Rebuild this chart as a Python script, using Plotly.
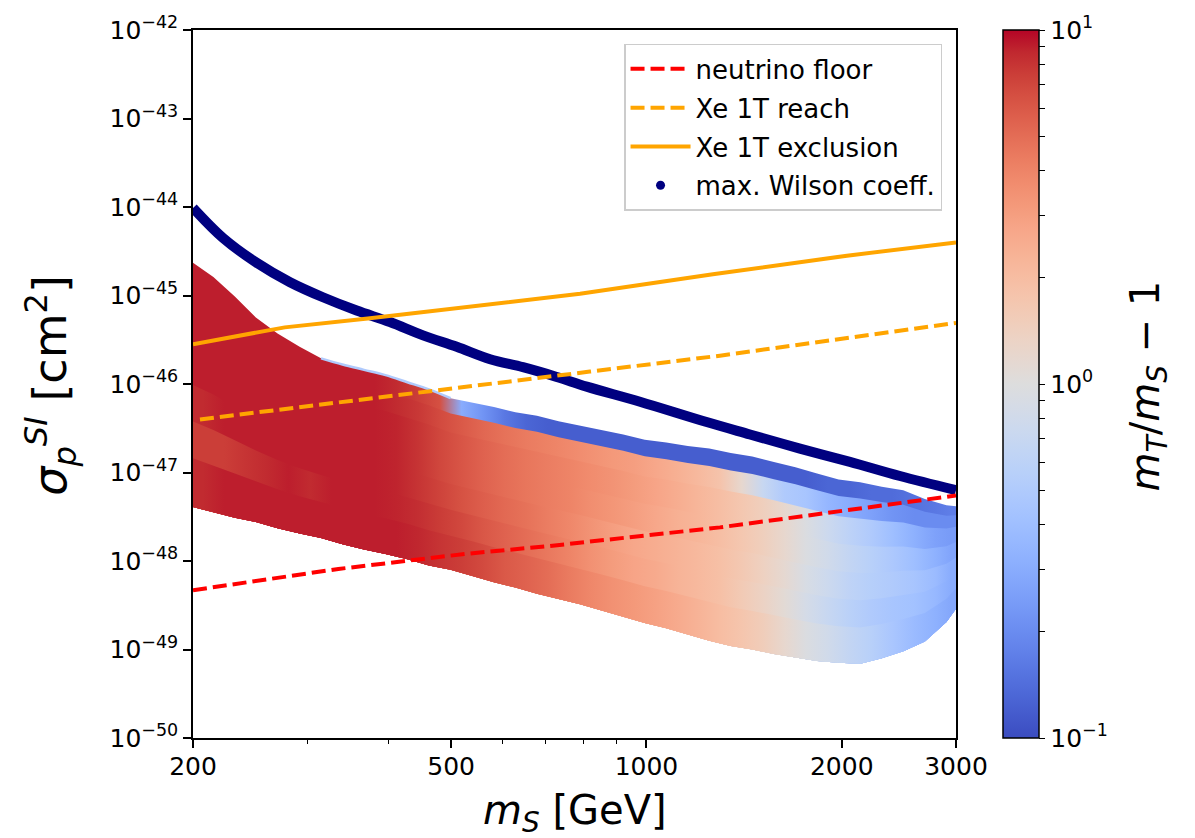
import numpy as np
import plotly.graph_objects as go
from plotly.colors import sample_colorscale

# ---------------- data ----------------
# neutrino floor (red dashed)
floor_ms = [200, 335, 525, 710, 1298, 3000]
floor_logsig = [-48.33, -48.09, -47.92, -47.83, -47.62, -47.26]

# Xe 1T reach (orange dashed)
reach_ms = [205, 525, 818, 1298, 3000]
reach_logsig = [-46.40, -46.04, -45.86, -45.68, -45.31]

# Xe 1T exclusion (orange solid)
excl_ms = [200, 277, 372, 525, 790, 1266, 2037, 3000]
excl_logsig = [-45.55, -45.36, -45.26, -45.13, -44.98, -44.76, -44.55, -44.40]

# max. Wilson coefficient (navy)
wilson_ms = [200, 222.5, 250.7, 282.2, 317.2, 357.5, 402.4, 452.5, 510, 574.1,
             645.1, 727.2, 808.8, 977.3, 1238, 1444, 1724, 2059, 2459, 3000]
wilson_logsig = [-44.01, -44.35, -44.63, -44.85, -45.02, -45.17, -45.30, -45.45,
                 -45.58, -45.72, -45.81, -45.92, -46.03, -46.20, -46.43, -46.57,
                 -46.73, -46.88, -47.04, -47.20]

# scan region: upper / lower edge (log10 sigma) at each m_S
cloud_ms = [200, 215, 232, 250, 270, 292, 315, 340, 367, 396, 428, 462, 499, 539, 582,
            628, 678, 732, 790, 853, 921, 994, 1073, 1158, 1250, 1349, 1456, 1572, 1697,
            1832, 1978, 2135, 2305, 2488, 2686, 2900, 3000]
cloud_top = [-44.63, -44.79, -45.01, -45.25, -45.43, -45.58, -45.71, -45.78, -45.84, -45.90,
             -45.98, -46.06, -46.16, -46.21, -46.26, -46.32, -46.36, -46.42, -46.47, -46.52,
             -46.57, -46.63, -46.66, -46.70, -46.73, -46.78, -46.82, -46.88, -46.94, -47.01,
             -47.08, -47.11, -47.16, -47.20, -47.30, -47.37, -47.38]
cloud_bottom = [-47.39, -47.45, -47.51, -47.56, -47.63, -47.69, -47.74, -47.81, -47.87, -47.92,
                -47.98, -48.05, -48.10, -48.17, -48.24, -48.30, -48.37, -48.43, -48.49, -48.56,
                -48.63, -48.70, -48.76, -48.83, -48.90, -48.96, -49.00, -49.05, -49.09, -49.13,
                -49.15, -49.16, -49.10, -49.02, -48.91, -48.69, -48.54]
# relative depth (0 = upper edge, 1 = lower edge) where each colour band starts
cloud_band = [0.0, 0.09, 0.2, 0.35, 0.5, 0.65, 0.8]
# m_T/m_S - 1 in each band, between consecutive m_S columns (top band first)
cloud_ratio = [
    [9, 9, 9, 9, 8.5, 7.5, 8.5],
    [9, 9, 9, 9, 9, 7.5, 9],
    [9, 9, 9, 9, 9, 8, 9],
    [9, 9, 9, 9, 9, 8.5, 9],
    [9, 9, 9, 9, 9, 9, 9],
    [9, 9, 9, 9, 9, 8.5, 9],
    [9, 9, 9, 9, 9, 9, 9],
    [9, 9, 9, 9, 9, 9, 9],
    [9, 9, 9, 9, 9, 9, 9],
    [8.5, 8.5, 8.8, 8.8, 8.8, 8.8, 9],
    [7.5, 7.8, 8, 8, 8, 8.3, 8.7],
    [6.5, 6.8, 7, 7, 7.2, 7.6, 8],
    [0.3, 6.0, 6.2, 6.2, 6.4, 6.9, 7.5],
    [0.22, 5.3, 5.5, 5.5, 5.7, 6.1, 6.8],
    [0.16, 4.8, 5, 5, 5.2, 5.5, 6],
    [0.13, 4.4, 4.6, 4.6, 4.8, 5, 5.5],
    [0.12, 4.1, 4.3, 4.3, 4.3, 4.5, 5],
    [0.12, 3.8, 4.0, 4.0, 3.9, 4.0, 4.4],
    [0.12, 3.5, 3.7, 3.6, 3.4, 3.5, 3.9],
    [0.12, 3.2, 3.4, 3.3, 3.0, 3.1, 3.5],
    [0.12, 3.0, 3.1, 3.0, 2.7, 2.8, 3.2],
    [0.12, 2.7, 2.8, 2.7, 2.5, 2.6, 2.9],
    [0.12, 2.4, 2.5, 2.4, 2.3, 2.3, 2.6],
    [0.12, 2.1, 2.2, 2.2, 2.1, 2.1, 2.3],
    [0.12, 1.8, 1.95, 1.95, 1.9, 1.9, 2.0],
    [0.12, 1.2, 1.7, 1.7, 1.65, 1.6, 1.75],
    [0.12, 0.7, 1.45, 1.45, 1.4, 1.35, 1.5],
    [0.12, 0.5, 1.2, 1.2, 1.15, 1.1, 1.2],
    [0.12, 0.45, 0.95, 0.95, 0.9, 0.85, 0.95],
    [0.13, 0.35, 0.75, 0.8, 0.75, 0.7, 0.8],
    [0.13, 0.3, 0.6, 0.66, 0.62, 0.58, 0.66],
    [0.14, 0.26, 0.5, 0.56, 0.55, 0.5, 0.56],
    [0.14, 0.22, 0.4, 0.48, 0.5, 0.45, 0.46],
    [0.15, 0.2, 0.32, 0.4, 0.45, 0.42, 0.38],
    [0.16, 0.2, 0.26, 0.32, 0.38, 0.36, 0.32],
    [0.17, 0.2, 0.24, 0.27, 0.3, 0.3, 0.28],
]
# thin light-blue rim on the upper edge of the red part
rim_ms = [315, 340, 367, 396, 428, 462, 499]
rim_logsig = [-45.71, -45.78, -45.84, -45.90, -45.98, -46.06, -46.16]
rim_ratio = 0.5

x_tickvals = [200, 500, 1000, 2000, 3000]
x_ticktext = ["200", "500", "1000", "2000", "3000"]
x_minor = [300, 400, 600, 700, 800, 900]
y_exponents = [-42, -43, -44, -45, -46, -47, -48, -49, -50]
cbar_exponents = [-1, 0, 1]
cbar_minor = [0.2, 0.3, 0.4, 0.5, 0.6, 0.7, 0.8, 0.9, 2, 3, 4, 5, 6, 7, 8, 9]

# matplotlib "coolwarm"
coolwarm_rgb = [
    (59, 76, 192), (68, 90, 204), (77, 104, 215), (87, 117, 225), (98, 130, 234),
    (108, 142, 241), (119, 154, 247), (130, 165, 251), (141, 176, 254), (152, 185, 255),
    (163, 194, 255), (174, 201, 253), (184, 208, 249), (194, 213, 244), (204, 217, 238),
    (213, 219, 230), (221, 221, 221), (229, 216, 209), (236, 211, 197), (241, 204, 184),
    (245, 196, 172), (247, 187, 160), (247, 177, 148), (247, 166, 137), (244, 154, 123),
    (241, 141, 111), (236, 127, 99), (229, 112, 88), (222, 96, 77), (213, 80, 66),
    (203, 62, 56), (192, 40, 47), (180, 4, 38)]
coolwarm = [[i / (len(coolwarm_rgb) - 1), "rgb(%d,%d,%d)" % c] for i, c in enumerate(coolwarm_rgb)]

FONT = "DejaVu Sans"


def ratio_color(r):
    t = (np.log10(r) + 1.0) / 2.0
    t = min(max(t, 0.0), 1.0)
    return sample_colorscale(coolwarm, [t])[0]


# ---------------- build figure ----------------
fig = go.Figure()

n_col = len(cloud_ms)
lx = np.log10(cloud_ms)
x_lo, x_hi = lx[0], lx[-1]
# gradient stop positions: centre of each column interval (fraction of the log-x extent)
stop_pos = [0.0] + [float((0.5 * (lx[k] + lx[k + 1]) - x_lo) / (x_hi - x_lo))
                    for k in range(n_col - 1)] + [1.0]


def edge(i, f):
    return 10.0 ** (cloud_top[i] + f * (cloud_bottom[i] - cloud_top[i]))


# each band is filled from its own start depth down to the lower edge (later bands paint over)
for j, f0 in enumerate(cloud_band):
    cols = [ratio_color(cloud_ratio[k][j]) for k in range(n_col - 1)]
    cols = [cols[0]] + cols + [cols[-1]]
    scale = [[p, c] for p, c in zip(stop_pos, cols)]
    xs = list(cloud_ms) + list(cloud_ms[::-1]) + [cloud_ms[0]]
    ys = [edge(i, f0) for i in range(n_col)] + [edge(i, 1.0) for i in range(n_col - 1, -1, -1)] \
        + [edge(0, f0)]
    fig.add_trace(go.Scatter(
        x=xs, y=ys, mode="lines", fill="toself", fillcolor=cols[len(cols) // 2],
        fillgradient=dict(type="horizontal", colorscale=scale),
        line=dict(width=0), showlegend=False, hoverinfo="skip"))

fig.add_trace(go.Scatter(
    x=rim_ms, y=[10.0 ** v for v in rim_logsig], mode="lines",
    line=dict(color=ratio_color(rim_ratio), width=2.5, shape="spline"),
    showlegend=False, hoverinfo="skip"))

# carrier of the colour scale
fig.add_trace(go.Scatter(
    x=[cloud_ms[0]], y=[10.0 ** cloud_top[0]], mode="markers", showlegend=False,
    hoverinfo="skip",
    marker=dict(size=1, opacity=0, color=[np.log10(cloud_ratio[0][0])], coloraxis="coloraxis")))

fig.add_trace(go.Scatter(
    x=wilson_ms, y=[10.0 ** v for v in wilson_logsig], mode="lines",
    line=dict(color="#000080", width=10, shape="spline", smoothing=1.0),
    showlegend=False, hoverinfo="skip"))

fig.add_trace(go.Scatter(
    x=floor_ms, y=[10.0 ** v for v in floor_logsig], mode="lines", name="neutrino floor",
    line=dict(color="#ff0000", width=4, dash="14px,6px"), legendrank=1, legendgroup="a"))
fig.add_trace(go.Scatter(
    x=reach_ms, y=[10.0 ** v for v in reach_logsig], mode="lines", name="Xe 1T reach",
    line=dict(color="#ffa500", width=4, dash="14px,6px"), legendrank=2, legendgroup="b"))
fig.add_trace(go.Scatter(
    x=excl_ms, y=[10.0 ** v for v in excl_logsig], mode="lines", name="Xe 1T exclusion",
    line=dict(color="#ffa500", width=4), legendrank=3, legendgroup="c"))
fig.add_trace(go.Scatter(
    x=[None], y=[None], mode="markers", name="max. Wilson coeff.",
    marker=dict(color="#000080", size=9), legendrank=4, legendgroup="d"))

axis_common = dict(
    showline=True, linecolor="black", linewidth=1.5, mirror=True,
    ticks="outside", ticklen=8, tickwidth=1.5, tickcolor="black",
    showgrid=False, zeroline=False,
    tickfont=dict(family=FONT, size=25, color="black"))

fig.update_xaxes(
    type="log", range=[np.log10(200), np.log10(3000)],
    tickmode="array", tickvals=x_tickvals, ticktext=x_ticktext,
    ticklabelstandoff=-3,
    minor=dict(tickmode="array", tickvals=x_minor, ticks="outside", ticklen=4,
               tickwidth=1.2, tickcolor="black", showgrid=False),
    **axis_common)
fig.update_yaxes(
    type="log", range=[-50, -42],
    tickmode="array", tickvals=[10.0 ** e for e in y_exponents],
    ticktext=["10<sup>%s</sup>" % str(e).replace("-", "−") for e in y_exponents],
    **axis_common)

cb_ticks = [float(e) for e in cbar_exponents] + [float(np.log10(m)) for m in cbar_minor]
cb_text = ["10<sup>%s</sup>" % str(e).replace("-", "−") for e in cbar_exponents] + \
          [" " for _ in cbar_minor]

fig.update_layout(
    width=1195, height=838,
    margin=dict(l=193, r=239, t=26, b=100),
    paper_bgcolor="white", plot_bgcolor="white",
    font=dict(family=FONT, size=25, color="black"),
    coloraxis=dict(
        colorscale=coolwarm, cmin=-1, cmax=1,
        colorbar=dict(
            x=1.0616, xanchor="left", y=0.5, yanchor="middle",
            len=1.0, lenmode="fraction", thickness=36, xpad=0, ypad=0,
            outlinewidth=1.5, outlinecolor="black",
            tickmode="array", tickvals=cb_ticks, ticktext=cb_text,
            ticks="outside", ticklen=6, tickwidth=1.2, tickcolor="black",
            tickfont=dict(family=FONT, size=25, color="black"))),
    legend=dict(
        x=0.9817, xanchor="right", y=0.9803, yanchor="top",
        bgcolor="rgba(255,255,255,0.85)", bordercolor="#cccccc", borderwidth=1.5,
        font=dict(family=FONT, size=26, color="black"), itemwidth=60,
        tracegroupgap=2),
    annotations=[
        dict(text="<i>σ</i><sub><i>p</i></sub><sup><i>SI</i></sup> [cm<sup>2</sup>]",
             x=-0.187, y=0.498, xref="paper", yref="paper", textangle=-90,
             xanchor="center", yanchor="middle",
             showarrow=False, font=dict(family=FONT, size=46, color="black")),
        dict(text="<i>m</i><sub><i>S</i></sub> [GeV]",
             x=0.5007, y=-0.066, xref="paper", yref="paper",
             xanchor="center", yanchor="top",
             showarrow=False, font=dict(family=FONT, size=40, color="black")),
        dict(text="<i>m</i><sub><i>T</i></sub>/<i>m</i><sub><i>S</i></sub> − 1",
             x=1.2516, y=0.498, xref="paper", yref="paper", textangle=-90,
             xanchor="center", yanchor="middle",
             showarrow=False, font=dict(family=FONT, size=40, color="black")),
    ],
)

fig.write_html("out.html", config={"displayModeBar": False},
               post_script="document.body.style.margin='0px';document.body.style.padding='0px';")
